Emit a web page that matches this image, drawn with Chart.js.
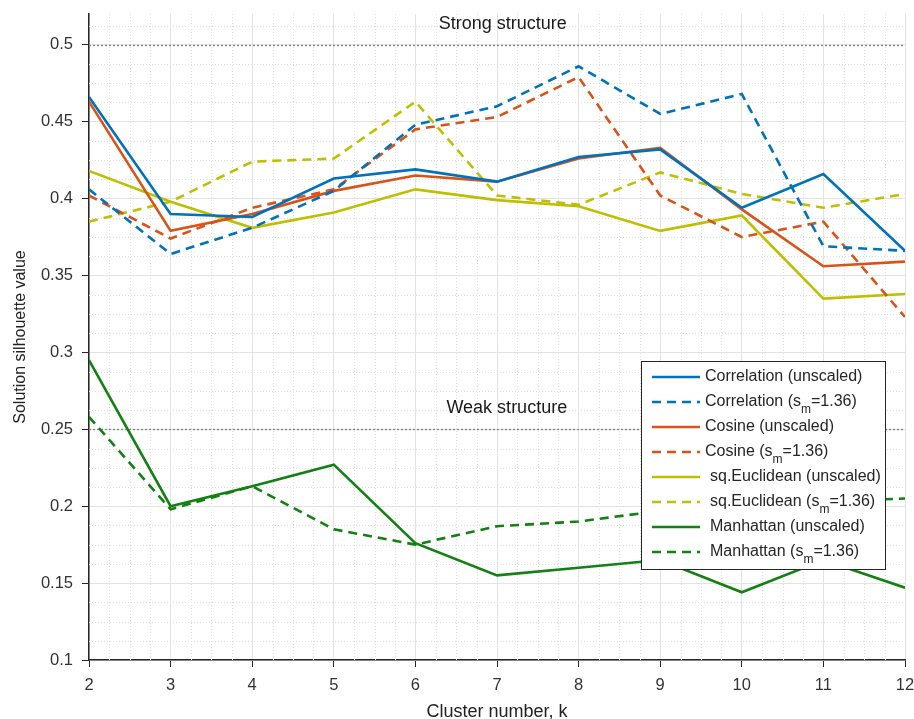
<!DOCTYPE html>
<html>
<head>
<meta charset="utf-8">
<script src="https://cdn.jsdelivr.net/npm/chart.js@4.4.0/dist/chart.umd.min.js"></script>
<style>
  html, body { margin: 0; padding: 0; background: #fff; }
  #wrap { width: 914px; height: 719px; }
</style>
</head>
<body>
<div id="wrap"><canvas id="silChart"></canvas></div>
<script>
// cluster numbers on the x axis
const kValues = [2, 3, 4, 5, 6, 7, 8, 9, 10, 11, 12];

// silhouette values
const corrUnscaled = [0.466, 0.390, 0.388, 0.413, 0.419, 0.411, 0.427, 0.432, 0.394, 0.416, 0.366];
const corrScaled   = [0.406, 0.364, 0.381, 0.405, 0.448, 0.460, 0.486, 0.455, 0.468, 0.369, 0.366];
const cosUnscaled  = [0.463, 0.379, 0.390, 0.405, 0.415, 0.411, 0.426, 0.433, 0.393, 0.356, 0.359];
const cosScaled    = [0.402, 0.374, 0.394, 0.406, 0.445, 0.453, 0.479, 0.402, 0.375, 0.385, 0.323];
const eucUnscaled  = [0.418, 0.398, 0.381, 0.391, 0.406, 0.399, 0.395, 0.379, 0.389, 0.335, 0.338];
const eucScaled    = [0.385, 0.398, 0.424, 0.426, 0.463, 0.402, 0.396, 0.417, 0.403, 0.394, 0.403];
const manUnscaled  = [0.295, 0.200, 0.213, 0.227, 0.176, 0.155, 0.160, 0.165, 0.144, 0.165, 0.147];
const manScaled    = [0.258, 0.198, 0.213, 0.185, 0.175, 0.187, 0.190, 0.197, 0.200, 0.203, 0.205];

const yTicks = [0.1, 0.15, 0.2, 0.25, 0.3, 0.35, 0.4, 0.45, 0.5];

// threshold lines with their captions
const strongLevel = 0.5;
const weakLevel = 0.25;

const FONT = "'Liberation Sans', Arial, sans-serif";

function pts(values) {
  return values.map((v, i) => ({ x: kValues[i], y: v }));
}

function series(label, values, color, dashed) {
  return {
    label: label,
    data: pts(values),
    borderColor: color,
    backgroundColor: color,
    borderWidth: 2.6,
    borderDash: dashed ? [9, 6] : [],
    pointRadius: 0,
    fill: false,
    tension: 0
  };
}

function noPad(s) {
  s.paddingLeft = 0; s.paddingRight = 0; s.paddingTop = 0; s.paddingBottom = 0;
}

// dotted minor grid (quarter k, 0.0125 in y)
const minorGrid = {
  id: 'minorGrid',
  beforeDatasetsDraw(chart) {
    const { ctx, chartArea: a, scales: { x, y } } = chart;
    ctx.save();
    ctx.strokeStyle = '#dedede';
    ctx.lineWidth = 1;
    ctx.setLineDash([1, 2]);
    for (let k = 2; k <= 12.001; k += 0.25) {
      if (Math.abs(k - Math.round(k)) < 1e-6) continue;
      const px = Math.round(x.getPixelForValue(k)) + 0.5;
      ctx.beginPath(); ctx.moveTo(px, a.top); ctx.lineTo(px, a.bottom); ctx.stroke();
    }
    for (let v = 0.1; v <= 0.52; v += 0.0125) {
      const r = v / 0.05;
      if (Math.abs(r - Math.round(r)) < 1e-6) continue;
      const py = Math.round(y.getPixelForValue(v)) + 0.5;
      ctx.beginPath(); ctx.moveTo(a.left, py); ctx.lineTo(a.right, py); ctx.stroke();
    }
    ctx.restore();
  }
};

// strong / weak structure reference lines
const structureLines = {
  id: 'structureLines',
  beforeDatasetsDraw(chart) {
    const { ctx, chartArea: a, scales: { x, y } } = chart;
    ctx.save();
    ctx.strokeStyle = '#808080';
    ctx.lineWidth = 1.3;
    ctx.setLineDash([2, 2]);
    [strongLevel, weakLevel].forEach(v => {
      const py = Math.round(y.getPixelForValue(v)) + 0.5;
      ctx.beginPath(); ctx.moveTo(a.left, py); ctx.lineTo(a.right, py); ctx.stroke();
    });
    ctx.setLineDash([]);
    ctx.fillStyle = '#1a1a1a';
    ctx.font = '18px ' + FONT;
    ctx.textAlign = 'center';
    ctx.textBaseline = 'middle';
    ctx.fillText('Strong structure', x.getPixelForValue(7.07), y.getPixelForValue(strongLevel) - 21);
    ctx.fillText('Weak structure', x.getPixelForValue(7.12), y.getPixelForValue(weakLevel) - 21);
    ctx.restore();
  }
};

// legend drawn by hand so the subscript m can be shown
const boxLegend = {
  id: 'boxLegend',
  afterDraw(chart) {
    const { ctx } = chart;
    const left = 641, top = 361, w = 244, h = 208;
    ctx.save();
    ctx.fillStyle = '#fff';
    ctx.fillRect(left, top, w, h);
    ctx.strokeStyle = '#262626';
    ctx.lineWidth = 1;
    ctx.setLineDash([]);
    ctx.strokeRect(left + 0.5, top + 0.5, w, h);
    chart.data.datasets.forEach((ds, i) => {
      const cy = top + 16 + i * 25;
      ctx.strokeStyle = ds.borderColor;
      ctx.lineWidth = 2.6;
      ctx.setLineDash(ds.borderDash);
      ctx.beginPath(); ctx.moveTo(left + 11, cy); ctx.lineTo(left + 59, cy); ctx.stroke();
      ctx.setLineDash([]);
      let tx = left + (i < 4 ? 64 : 69);
      ctx.fillStyle = '#262626';
      ctx.textBaseline = 'middle';
      ctx.textAlign = 'left';
      const parts = ds.label.split('_m');
      ctx.font = '16px ' + FONT;
      ctx.fillText(parts[0], tx, cy);
      if (parts.length > 1) {
        tx += ctx.measureText(parts[0]).width;
        ctx.font = '12px ' + FONT;
        ctx.fillText('m', tx, cy + 8);
        tx += ctx.measureText('m').width;
        ctx.font = '16px ' + FONT;
        ctx.fillText(parts[1], tx, cy);
      }
    });
    ctx.restore();
  }
};

const ctx = document.getElementById('silChart').getContext('2d');
const silChart = new Chart(ctx, {
  type: 'line',
  data: {
    datasets: [
      series('Correlation (unscaled)', corrUnscaled, '#0072BD', false),
      series('Correlation (s_m=1.36)', corrScaled, '#0072BD', true),
      series('Cosine (unscaled)', cosUnscaled, '#D95319', false),
      series('Cosine (s_m=1.36)', cosScaled, '#D95319', true),
      series('sq.Euclidean (unscaled)', eucUnscaled, '#BFBF00', false),
      series('sq.Euclidean (s_m=1.36)', eucScaled, '#BFBF00', true),
      series('Manhattan (unscaled)', manUnscaled, '#128012', false),
      series('Manhattan (s_m=1.36)', manScaled, '#128012', true)
    ]
  },
  options: {
    responsive: true,
    maintainAspectRatio: false,
    animation: false,
    layout: { padding: { top: 14, right: 9, left: 0, bottom: 0 } },
    plugins: {
      legend: { display: false },
      tooltip: { enabled: false }
    },
    scales: {
      x: {
        type: 'linear',
        min: 2,
        max: 12,
        afterFit: s => { s.height = 59; noPad(s); },
        ticks: { stepSize: 1, color: '#333', padding: 9, font: { size: 16.5, family: FONT } },
        grid: { color: '#e3e3e3', tickColor: '#262626', tickLength: 7 },
        border: { color: '#262626', width: 1.5 },
        title: {
          display: true,
          text: 'Cluster number, k',
          color: '#222',
          font: { size: 18, family: FONT, lineHeight: 0.8 },
          padding: { top: 0, bottom: 0 }
        }
      },
      y: {
        type: 'linear',
        min: 0.1,
        max: 0.52,
        afterFit: s => { s.width = 89; noPad(s); },
        afterBuildTicks: s => { s.ticks = yTicks.map(v => ({ value: v })); },
        ticks: {
          color: '#333',
          padding: 9,
          font: { size: 16.5, family: FONT },
          callback: v => String(+v.toFixed(2))
        },
        grid: { color: '#e3e3e3', tickColor: '#262626', tickLength: 7 },
        border: { color: '#262626', width: 1.5 },
        title: {
          display: true,
          text: 'Solution silhouette value',
          color: '#222',
          font: { size: 16, family: FONT },
          padding: { top: 11, bottom: 0 }
        }
      }
    }
  },
  plugins: [minorGrid, structureLines, boxLegend]
});
</script>
</body>
</html>
